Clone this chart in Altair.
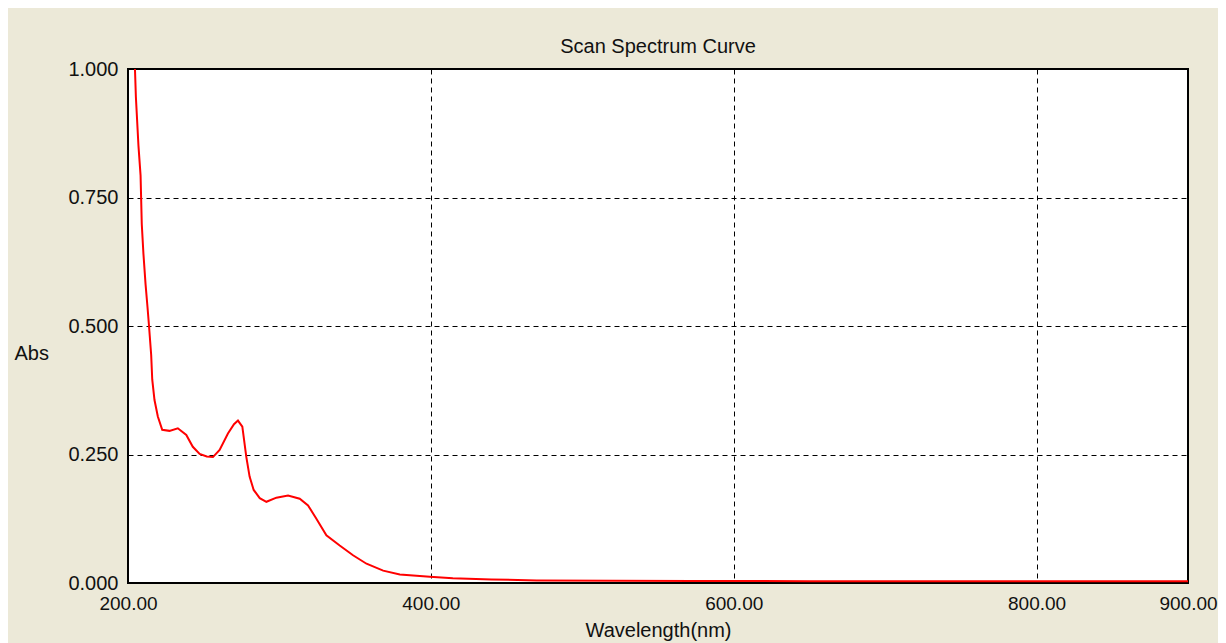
import altair as alt
import pandas as pd

# Wavelength (nm) and absorbance
wavelength = [203.0, 204.6, 205.2, 206.9, 208.3, 209.1, 210.2, 211.6, 212.9, 213.8,
              215.3, 216.0, 217.5, 219.7, 222.6, 227.4, 232.9, 238.5, 242.8, 247.3,
              252.0, 256.1, 260.5, 266.0, 270.0, 272.6, 275.5, 278.1, 280.3, 283.0,
              287.0, 291.4, 298.0, 305.7, 313.4, 318.9, 324.4, 331.0, 339.8, 348.6,
              357.5, 368.5, 379.5, 399.3, 414.5, 440.0, 469.9, 520.0, 573.0, 600.0,
              650.0, 700.0, 800.0, 900.0]
absorbance = [1.10, 1.00, 0.946, 0.851, 0.793, 0.698, 0.640, 0.581, 0.536, 0.503,
              0.444, 0.396, 0.356, 0.324, 0.298, 0.296, 0.301, 0.288, 0.265, 0.251,
              0.246, 0.245, 0.259, 0.291, 0.309, 0.316, 0.304, 0.246, 0.207, 0.181,
              0.165, 0.158, 0.166, 0.170, 0.164, 0.151, 0.125, 0.093, 0.073, 0.054,
              0.0375, 0.024, 0.0166, 0.012, 0.0094, 0.007, 0.005, 0.0045, 0.004, 0.004,
              0.0035, 0.0035, 0.0035, 0.0035]

x_ticks = [200, 400, 600, 800, 900]
y_ticks = [0.0, 0.25, 0.5, 0.75, 1.0]

df = pd.DataFrame({"wl": wavelength, "abs": absorbance})

FONT = "Liberation Sans"
TXT = "#111111"

chart = alt.Chart(df).mark_line(color="#ff0000", strokeWidth=2, clip=True).encode(
    x=alt.X("wl:Q",
            scale=alt.Scale(domain=[200, 900], nice=False, zero=False),
            axis=alt.Axis(values=x_ticks, format=".2f", title="Wavelength(nm)",
                          labelFlush=False, labelOverlap=False, labelFontSize=19,
                          labelPadding=11, titleY=47, titleBaseline="middle")),
    y=alt.Y("abs:Q",
            scale=alt.Scale(domain=[0, 1], nice=False),
            axis=alt.Axis(values=y_ticks, format=".3f", title="Abs",
                          labelFlush=False, labelOverlap=False, labelPadding=10,
                          titleAngle=0, titleAlign="left", titleBaseline="middle",
                          titleX=-114, titleY=284)),
).properties(
    width=1060,
    height=514,
    autosize="none",
    padding={"left": 120, "top": 61, "right": 30, "bottom": 60},
    background="#ECE9D8",
    title=alt.TitleParams("Scan Spectrum Curve", offset=17, baseline="alphabetic",
                          anchor="middle", font=FONT, fontSize=20, dy=31,
                          fontWeight="normal", color=TXT),
).configure_view(
    fill="white", stroke="#000000", strokeWidth=2
).configure_axis(
    domain=False, ticks=False,
    grid=True, gridColor="#000000", gridDash=[5, 4], gridWidth=1, gridOpacity=1,
    labelFont=FONT, labelFontSize=20, labelColor=TXT,
    titleFont=FONT, titleFontSize=20, titleColor=TXT, titleFontWeight="normal",
)

chart.save("out.html", embed_options={"renderer": "svg", "actions": False})
